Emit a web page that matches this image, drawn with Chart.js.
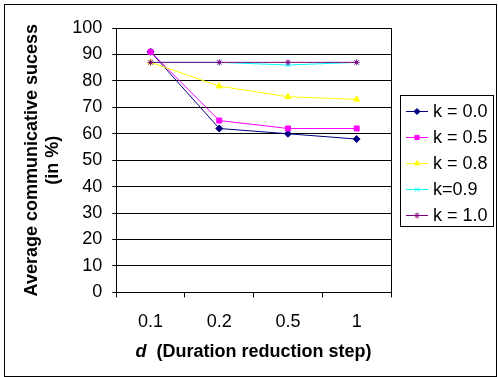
<!DOCTYPE html>
<html>
<head>
<meta charset="utf-8">
<script src="https://cdn.jsdelivr.net/npm/chart.js@4"></script>
<style>
    html, body { margin: 0; padding: 0; background: #fff; }
    #wrap { position: relative; width: 498px; height: 377px; }
    #frame { position: absolute; left: 4px; top: 4px; width: 491px; height: 371px; border: 1px solid #000; pointer-events: none; }
</style>
</head>
<body>
<div id="wrap">
    <canvas id="myLineChart" width="498" height="377"></canvas>
    <div id="frame"></div>
</div>
<script>
// Các giá trị của biểu đồ
const dSteps = ['0.1', '0.2', '0.5', '1'];
const seriesNames = ['k = 0.0', 'k = 0.5', 'k = 0.8', 'k=0.9', 'k = 1.0'];
const k00 = [91, 62, 60, 58];
const k05 = [91, 65, 62, 62];
const k08 = [87, 78, 74, 73];
const k09 = [87, 87, 86, 87];
const k10 = [87, 87, 87, 87];
const yTicks = [0, 10, 20, 30, 40, 50, 60, 70, 80, 90, 100];

const colors = ['#000080', '#FF00FF', '#FFFF00', '#00FFFF', '#800080'];
const markers = ['rectRot', 'rect', 'triangle', 'crossRot', 'star'];
const markerSizes = [3.5, 3.5, 3.5, 3, 3];
const FONT = 'Arial, "Liberation Sans", sans-serif';

// Tạo dataset cho từng đường
function makeDataset(i, values) {
    return {
        label: seriesNames[i],
        data: values,
        borderColor: colors[i],
        backgroundColor: colors[i],
        borderWidth: 1,
        pointStyle: markers[i],
        pointRadius: markerSizes[i],
        pointBorderWidth: 1,
        pointBorderColor: colors[i],
        pointBackgroundColor: colors[i],
        fill: false,
        tension: 0,
        order: 4 - i // series sau vẽ đè lên series trước (giống Excel)
    };
}

// Plugin: viền vùng vẽ, chú thích và tiêu đề trục x
const excelLook = {
    id: 'excelLook',
    beforeDatasetsDraw(chart) {
        const { ctx, chartArea: a } = chart;
        ctx.save();
        ctx.strokeStyle = '#000';
        ctx.lineWidth = 1;
        ctx.beginPath();
        ctx.moveTo(Math.round(a.right) + 0.5, a.top);
        ctx.lineTo(Math.round(a.right) + 0.5, a.bottom);
        ctx.stroke();
        ctx.restore();
    },
    afterDraw(chart) {
        const { ctx, chartArea: a } = chart;
        const sets = chart.data.datasets;
        ctx.save();

        // Hộp chú thích
        const rowH = 26;
        const boxW = 93;
        const boxH = sets.length * rowH + 1;
        const bx = Math.round(a.right) + 9;
        const by = Math.round((a.top + a.bottom) / 2 - boxH / 2);
        ctx.strokeStyle = '#000';
        ctx.lineWidth = 1;
        ctx.strokeRect(bx + 0.5, by + 0.5, boxW, boxH);

        ctx.font = '18px ' + FONT;
        ctx.textBaseline = 'middle';
        ctx.fillStyle = '#000';
        sets.forEach((ds, i) => {
            const y = by + 16 + i * rowH;
            ctx.strokeStyle = ds.borderColor;
            ctx.beginPath();
            ctx.moveTo(bx + 6, y + 0.5);
            ctx.lineTo(bx + 28, y + 0.5);
            ctx.stroke();
            ctx.fillStyle = ds.borderColor;
            Chart.helpers.drawPoint(ctx, {
                pointStyle: ds.pointStyle, radius: 3, rotation: 0, borderWidth: 1
            }, bx + 17, y + 0.5);
            ctx.fillStyle = '#000';
            ctx.fillText(ds.label, bx + 33, y + 1);
        });

        // Tiêu đề trục x: "d" in nghiêng
        const part1 = 'd';
        const part2 = '  (Duration reduction step)';
        ctx.font = 'italic bold 18px ' + FONT;
        const w1 = ctx.measureText(part1).width;
        ctx.font = 'bold 18px ' + FONT;
        const w2 = ctx.measureText(part2).width;
        const cx = (a.left + a.right) / 2;
        const x0 = cx - (w1 + w2) / 2;
        const ty = 352;
        ctx.textAlign = 'left';
        ctx.font = 'italic bold 18px ' + FONT;
        ctx.fillText(part1, x0, ty);
        ctx.font = 'bold 18px ' + FONT;
        ctx.fillText(part2, x0 + w1, ty);

        ctx.restore();
    }
};

function createChart(canvasId) {
    const ctx = document.getElementById(canvasId).getContext('2d');
    return new Chart(ctx, {
        type: 'line',
        data: {
            labels: dSteps,
            datasets: [
                makeDataset(0, k00),
                makeDataset(1, k05),
                makeDataset(2, k08),
                makeDataset(3, k09),
                makeDataset(4, k10)
            ]
        },
        options: {
            responsive: false,
            animation: false,
            layout: {
                padding: { left: 17, right: 107, top: 28, bottom: 30 }
            },
            plugins: {
                legend: { display: false },
                tooltip: { enabled: false }
            },
            scales: {
                x: {
                    offset: true,
                    grid: {
                        offset: true,
                        drawOnChartArea: false,
                        drawTicks: true,
                        tickLength: 5,
                        color: '#000'
                    },
                    border: { color: '#000', width: 1 },
                    ticks: {
                        color: '#000',
                        padding: 14,
                        font: { family: FONT, size: 18 },
                        maxRotation: 0
                    }
                },
                y: {
                    min: 0,
                    max: 100,
                    afterBuildTicks(scale) {
                        scale.ticks = yTicks.map(v => ({ value: v }));
                    },
                    grid: {
                        color: '#000',
                        drawTicks: true,
                        tickLength: 4
                    },
                    border: { color: '#000', width: 1 },
                    ticks: {
                        color: '#000',
                        padding: 10,
                        font: { family: FONT, size: 18 }
                    },
                    title: {
                        display: true,
                        text: ['Average communicative sucess', '(in %)'],
                        color: '#000',
                        font: { family: FONT, size: 18, weight: 'bold', lineHeight: 1.2 },
                        padding: { top: 4, bottom: -2 }
                    }
                }
            }
        },
        plugins: [excelLook]
    });
}

const chart = createChart('myLineChart');
</script>
</body>
</html>
